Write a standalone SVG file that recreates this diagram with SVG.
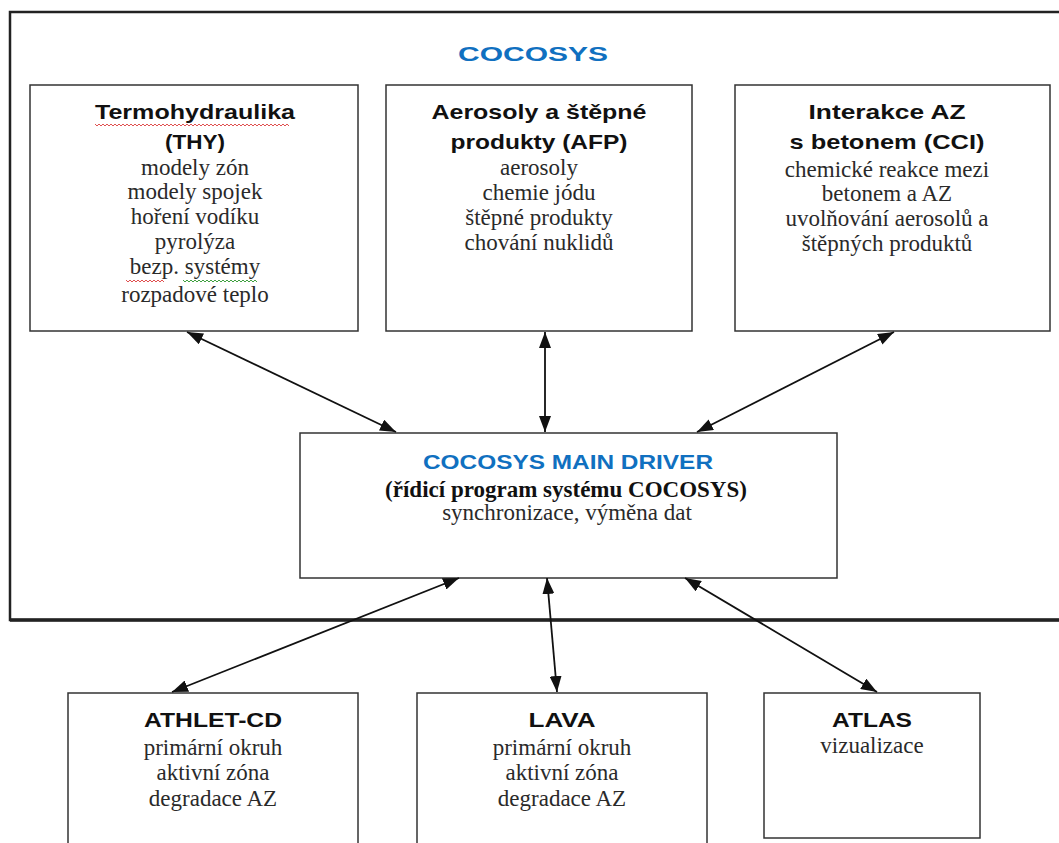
<svg xmlns="http://www.w3.org/2000/svg" width="1059" height="843" viewBox="0 0 1059 843">
<defs>
<marker id="ah" viewBox="0 0 16 12" refX="16" refY="6" markerWidth="16" markerHeight="12" markerUnits="userSpaceOnUse" orient="auto-start-reverse">
<path d="M0,0 L16,6 L0,12 Z" fill="#111"/>
</marker>
<style>
.box{fill:#fff;stroke:#333;stroke-width:1.5}
.ttl{font-family:"Liberation Sans",Arial,sans-serif;font-weight:bold;font-size:21px;fill:#111;text-anchor:middle}
.blue{fill:#1070c0}
.txt{font-family:"Liberation Serif","Times New Roman",serif;font-size:23px;fill:#2a2a2a;text-anchor:middle}
.bt{font-weight:bold;fill:#111}
.con{stroke:#111;stroke-width:1.8;fill:none;marker-start:url(#ah);marker-end:url(#ah)}
.sqr{fill:none;stroke:#e05050;stroke-width:1}
.sqg{fill:none;stroke:#40a040;stroke-width:1}
</style>
</defs>
<rect width="1059" height="843" fill="#fff"/>
<g id="cocosys">
<rect x="10" y="12" width="1060" height="608" fill="none" stroke="#222" stroke-width="2.5"/>
<line x1="10" y1="620" x2="1059" y2="620" stroke="#222" stroke-width="3.5"/>
<text x="533" y="61" class="ttl blue" font-size="28" textLength="150" lengthAdjust="spacingAndGlyphs">COCOSYS</text>
</g>
<g id="thy">
<rect class="box" x="30" y="85" width="328" height="246"/>
<text x="195" y="119" class="ttl" textLength="200" lengthAdjust="spacingAndGlyphs">Termohydraulika</text>
<path class="sqr" d="M95,124 l2,2 l2,-2 l2,2 l2,-2 l2,2 l2,-2 l2,2 l2,-2 l2,2 l2,-2 l2,2 l2,-2 l2,2 l2,-2 l2,2 l2,-2 l2,2 l2,-2 l2,2 l2,-2 l2,2 l2,-2 l2,2 l2,-2 l2,2 l2,-2 l2,2 l2,-2 l2,2 l2,-2 l2,2 l2,-2 l2,2 l2,-2 l2,2 l2,-2 l2,2 l2,-2 l2,2 l2,-2 l2,2 l2,-2 l2,2 l2,-2 l2,2 l2,-2 l2,2 l2,-2 l2,2 l2,-2 l2,2 l2,-2 l2,2 l2,-2 l2,2 l2,-2 l2,2 l2,-2 l2,2 l2,-2 l2,2 l2,-2 l2,2 l2,-2 l2,2 l2,-2 l2,2 l2,-2 l2,2 l2,-2 l2,2 l2,-2 l2,2 l2,-2 l2,2 l2,-2 l2,2 l2,-2 l2,2 l2,-2 l2,2 l2,-2 l2,2 l2,-2 l2,2 l2,-2 l2,2 l2,-2 l2,2 l2,-2 l2,2 l2,-2 l2,2 l2,-2 l2,2 l2,-2 l2,2"/>
<text x="195" y="149" class="ttl" textLength="60" lengthAdjust="spacingAndGlyphs">(THY)</text>
<text x="195" y="175" class="txt">modely zón</text>
<text x="195" y="199" class="txt">modely spojek</text>
<text x="195" y="224" class="txt">hoření vodíku</text>
<text x="195" y="249" class="txt">pyrolýza</text>
<text x="195" y="274" class="txt">bezp. systémy</text>
<path class="sqr" d="M126,280 l2,2 l2,-2 l2,2 l2,-2 l2,2 l2,-2 l2,2 l2,-2 l2,2 l2,-2 l2,2 l2,-2 l2,2 l2,-2 l2,2 l2,-2 l2,2 l2,-2 l2,2"/>
<path class="sqg" d="M183,280 l2,2 l2,-2 l2,2 l2,-2 l2,2 l2,-2 l2,2 l2,-2 l2,2 l2,-2 l2,2 l2,-2 l2,2 l2,-2 l2,2 l2,-2 l2,2 l2,-2 l2,2 l2,-2 l2,2 l2,-2 l2,2 l2,-2 l2,2 l2,-2 l2,2 l2,-2 l2,2 l2,-2 l2,2 l2,-2 l2,2 l2,-2 l2,2 l2,-2 l2,2"/>
<text x="195" y="302" class="txt">rozpadové teplo</text>
</g>
<g id="afp">
<rect class="box" x="386" y="85" width="306" height="246"/>
<text x="539" y="119" class="ttl" textLength="215" lengthAdjust="spacingAndGlyphs">Aerosoly a štěpné</text>
<text x="539" y="149" class="ttl" textLength="177" lengthAdjust="spacingAndGlyphs">produkty (AFP)</text>
<text x="539" y="175" class="txt">aerosoly</text>
<text x="539" y="200" class="txt">chemie jódu</text>
<text x="539" y="225" class="txt">štěpné produkty</text>
<text x="539" y="250" class="txt">chování nuklidů</text>
</g>
<g id="cci">
<rect class="box" x="735" y="85" width="315" height="246"/>
<text x="887" y="119" class="ttl" textLength="157" lengthAdjust="spacingAndGlyphs">Interakce AZ</text>
<text x="887" y="149" class="ttl" textLength="195" lengthAdjust="spacingAndGlyphs">s betonem (CCI)</text>
<text x="887" y="177" class="txt">chemické reakce mezi</text>
<text x="887" y="201" class="txt">betonem a AZ</text>
<text x="887" y="226" class="txt">uvolňování aerosolů a</text>
<text x="887" y="251" class="txt">štěpných produktů</text>
</g>
<g id="main">
<rect class="box" x="300" y="433" width="537" height="145"/>
<text x="568" y="469" class="ttl blue" textLength="290" lengthAdjust="spacingAndGlyphs">COCOSYS MAIN DRIVER</text>
<text x="566" y="497" class="txt bt" font-size="22">(řídicí program systému COCOSYS)</text>
<text x="567" y="520" class="txt">synchronizace, výměna dat</text>
</g>
<g id="athlet">
<rect class="box" x="68" y="693" width="290" height="160"/>
<text x="213" y="727" class="ttl" textLength="138" lengthAdjust="spacingAndGlyphs">ATHLET-CD</text>
<text x="213" y="755" class="txt">primární okruh</text>
<text x="213" y="780" class="txt">aktivní zóna</text>
<text x="213" y="806" class="txt">degradace AZ</text>
</g>
<g id="lava">
<rect class="box" x="417" y="693" width="290" height="160"/>
<text x="562" y="727" class="ttl" textLength="67" lengthAdjust="spacingAndGlyphs">LAVA</text>
<text x="562" y="755" class="txt">primární okruh</text>
<text x="562" y="780" class="txt">aktivní zóna</text>
<text x="562" y="806" class="txt">degradace AZ</text>
</g>
<g id="atlas">
<rect class="box" x="764" y="693" width="216" height="145"/>
<text x="872" y="727" class="ttl" textLength="80" lengthAdjust="spacingAndGlyphs">ATLAS</text>
<text x="872" y="753" class="txt">vizualizace</text>
</g>
<g id="connectors">
<line class="con" x1="187" y1="332" x2="396" y2="432"/>
<line class="con" x1="545" y1="332" x2="545" y2="432"/>
<line class="con" x1="894" y1="332" x2="697" y2="432"/>
<line class="con" x1="459" y1="578" x2="172" y2="692"/>
<line class="con" x1="547" y1="578" x2="557" y2="692"/>
<line class="con" x1="685" y1="578" x2="877" y2="692"/>
</g>
</svg>
